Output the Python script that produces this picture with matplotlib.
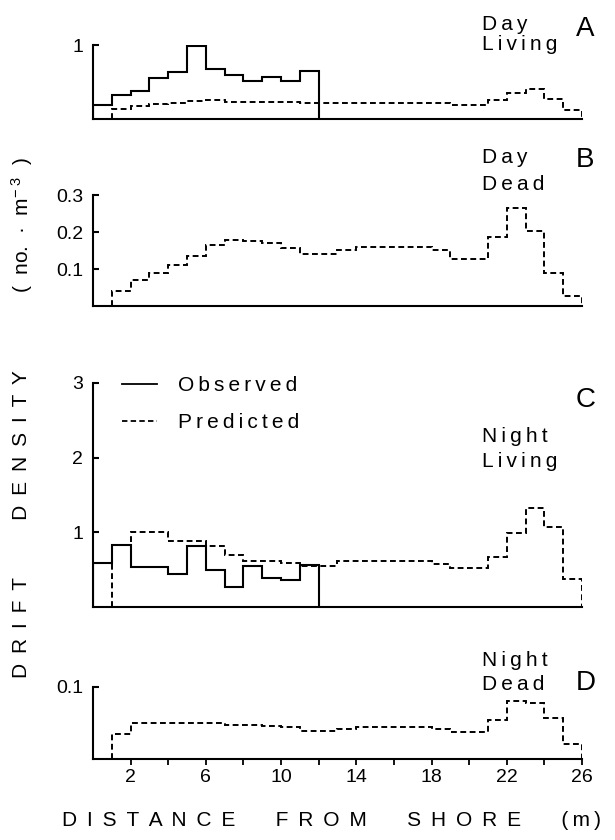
import matplotlib
matplotlib.use("Agg")
import matplotlib.pyplot as plt
from matplotlib.lines import Line2D

plt.rcParams['font.family'] = ['Liberation Sans', 'DejaVu Sans']
plt.rcParams['mathtext.fontset'] = 'custom'
plt.rcParams['mathtext.rm'] = 'Liberation Sans'
plt.rcParams['mathtext.it'] = 'Liberation Sans:italic'

# 1 m bins along the distance from shore
obs_edges = list(range(0, 13))
pred_edges = list(range(1, 27))

# drift density (no. m^-3), observed and predicted
day_living_obs = [0.19, 0.32, 0.38, 0.55, 0.63, 0.99, 0.67, 0.59, 0.52, 0.57, 0.52, 0.65]
day_living_pred = [0.14, 0.18, 0.20, 0.22, 0.25, 0.26, 0.23, 0.23, 0.23, 0.23, 0.21, 0.21, 0.21,
                   0.21, 0.21, 0.21, 0.21, 0.21, 0.19, 0.19, 0.26, 0.35, 0.40, 0.27, 0.12]
day_dead_pred = [0.04, 0.07, 0.09, 0.11, 0.135, 0.165, 0.178, 0.176, 0.17, 0.157, 0.14, 0.14, 0.151,
                 0.16, 0.16, 0.16, 0.16, 0.151, 0.128, 0.128, 0.187, 0.264, 0.203, 0.09, 0.027]
night_living_obs = [0.59, 0.83, 0.53, 0.53, 0.44, 0.81, 0.50, 0.27, 0.55, 0.39, 0.36, 0.56]
night_living_pred = [0.83, 1.01, 1.0, 0.88, 0.88, 0.82, 0.70, 0.62, 0.61, 0.59, 0.55, 0.55, 0.61,
                     0.61, 0.61, 0.61, 0.61, 0.57, 0.52, 0.52, 0.67, 0.99, 1.33, 1.07, 0.38]
night_dead_pred = [0.035, 0.050, 0.050, 0.050, 0.050, 0.050, 0.047, 0.047, 0.046, 0.044, 0.039, 0.039,
                   0.041, 0.044, 0.044, 0.044, 0.044, 0.041, 0.038, 0.038, 0.054, 0.080, 0.077, 0.057, 0.021]

panel_letters = ["A", "B", "C", "D"]
panel_names = [("Day", "Living"), ("Day", "Dead"), ("Night", "Living"), ("Night", "Dead")]
ytick_vals = [[1], [0.1, 0.2, 0.3], [1, 2, 3], [0.1]]
ytick_labels = [["1"], ["0.1", "0.2", "0.3"], ["1", "2", "3"], ["0.1"]]
ymax = [1, 0.3, 3, 0.1]
xtick_vals = list(range(2, 27, 2))
xtick_labels = [str(v) if v % 4 == 2 else "" for v in xtick_vals]

observed = [day_living_obs, None, night_living_obs, None]
predicted = [day_living_pred, day_dead_pred, night_living_pred, night_dead_pred]

THIN = "\u2009"


def spaced(s, gap=THIN):
    # fake letter spacing
    return gap.join(s)


W, H = 615, 840
fig = plt.figure(figsize=(W / 100, H / 100), dpi=100)

rects = [(0.1512, 0.8583, 0.7951, 0.0881),
         (0.1512, 0.6357, 0.7951, 0.1321),
         (0.1512, 0.2774, 0.7951, 0.2667),
         (0.1512, 0.0964, 0.7951, 0.0861)]

dash = (0, (3, 1.8))
axes = []
for i in range(4):
    ax = fig.add_axes(rects[i])
    if observed[i] is not None:
        ax.stairs(observed[i], obs_edges, baseline=0, color="black", lw=1.5)
    ax.stairs(predicted[i], pred_edges, baseline=0, color="black", lw=1.4, linestyle=dash)
    ax.set_xlim(0, 26)
    ax.set_ylim(0, ymax[i])
    ax.spines[["top", "right"]].set_visible(False)
    ax.spines[["left", "bottom"]].set_linewidth(1.5)
    ax.set_yticks(ytick_vals[i], ytick_labels[i])
    ax.tick_params(axis="y", direction="in", length=4, width=1.5, pad=7, labelsize=14)
    if i == 3:
        ax.set_xticks(xtick_vals, xtick_labels)
        ax.tick_params(axis="x", direction="out", length=4.5, width=1.3, pad=3, labelsize=14)
    else:
        ax.tick_params(axis="x", bottom=False, labelbottom=False)
    axes.append(ax)

# legend in panel C
handles = [Line2D([], [], color="black", lw=1.3),
           Line2D([], [], color="black", lw=1.3, linestyle=dash)]
axes[2].legend(handles, [spaced("Observed"), spaced("Predicted")], loc="upper left",
               bbox_to_anchor=(0.06, 1.03), frameon=False, fontsize=15, handlelength=1.65,
               handletextpad=1.0, labelspacing=0.85, borderpad=0, borderaxespad=0)


def ftext(x, y, s, **kw):
    fig.text(x / W, 1 - y / H, s, **kw)


name_pos = [(30, 50), (163, 190), (442, 467), (666, 690)]
letter_pos = [36, 167, 407, 690]
for i in range(4):
    ftext(482, name_pos[i][0], spaced(panel_names[i][0]), fontsize=15, va="baseline")
    ftext(482, name_pos[i][1], spaced(panel_names[i][1]), fontsize=15, va="baseline")
    ftext(576, letter_pos[i], panel_letters[i], fontsize=20, va="baseline")

# axis titles
wide = " " + THIN
xlab = (" " * 7).join(spaced(w, wide) for w in ["DISTANCE", "FROM", "SHORE"])
ftext(331, 826, xlab + " " * 7 + "(" + THIN + "m" + THIN + ")",
      fontsize=15, ha="center", va="baseline")
ylab = (" " * 10).join(spaced(w, wide) for w in ["DRIFT", "DENSITY"])
ftext(22, 524, ylab, fontsize=15, ha="center", va="center", rotation=90)
ftext(22, 225, "(  no.  ·  m$^{-\\ 3}$  )", fontsize=15, ha="center", va="center", rotation=90)

fig.savefig("out.png", dpi=100)
